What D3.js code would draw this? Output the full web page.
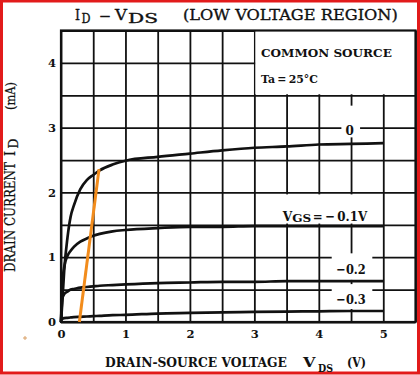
<!DOCTYPE html>
<html>
<head>
<meta charset="utf-8">
<script src="https://cdn.jsdelivr.net/npm/d3@7"></script>
<style>
  html, body { margin: 0; padding: 0; background: #fff; }
  text { font-family: "DejaVu Serif", serif; fill: #111; }
</style>
</head>
<body>
<div id="chart"></div>
<script>
// drain-source voltage sample points (V)
var vds = [0, 0.02, 0.05, 0.1, 0.15, 0.2, 0.3, 0.4, 0.5, 0.6, 0.8, 1.0, 1.5, 2.0, 2.5, 3.0, 3.5, 4.0, 4.5, 5.0];
// drain current (mA) for each gate-source voltage
var idVgs0   = [0, 0.3, 0.8, 1.3, 1.63, 1.8, 2.05, 2.19, 2.27, 2.34, 2.43, 2.49, 2.55, 2.6, 2.65, 2.69, 2.71, 2.74, 2.75, 2.76];
var idVgsM01 = [0, 0.55, 0.85, 1.02, 1.1, 1.16, 1.24, 1.29, 1.33, 1.36, 1.40, 1.42, 1.45, 1.47, 1.47, 1.48, 1.48, 1.48, 1.48, 1.48];
var idVgsM02 = [0, 0.36, 0.43, 0.47, 0.5, 0.51, 0.53, 0.54, 0.55, 0.56, 0.57, 0.58, 0.6, 0.61, 0.62, 0.62, 0.63, 0.63, 0.63, 0.63];
var idVgsM03 = [0.04, 0.05, 0.06, 0.065, 0.07, 0.075, 0.08, 0.085, 0.09, 0.095, 0.105, 0.11, 0.13, 0.14, 0.15, 0.155, 0.16, 0.165, 0.17, 0.17];
// hand drawn orange line
var orangeVds = [0.285, 0.59];
var orangeId = [0, 2.36];
// ticks
var xTicks = [0, 1, 2, 3, 4, 5];
var yTicks = [0, 1, 2, 3, 4];
var gridStep = 0.5;

var W = 420, H = 375;
var margin = {top: 30.5, right: 4.5, bottom: 53, left: 61};
var width = W - margin.left - margin.right,
    height = H - margin.top - margin.bottom;

var svg = d3.select("#chart").append("svg")
    .attr("width", W)
    .attr("height", H);

// red frame round the picture
svg.append("rect")
    .attr("x", 1.5).attr("y", 1).attr("width", 417).attr("height", 372)
    .attr("fill", "none").attr("stroke", "#e21b1b").attr("stroke-width", 3);

var x = d3.scaleLinear().domain([0, 5.5]).range([margin.left, margin.left + width]);
var y = d3.scaleLinear().domain([0, 4.5]).range([margin.top + height, margin.top]);

// grid
var gx = d3.range(0, 5.5 + 1e-9, gridStep), gy = d3.range(0, 4.5 + 1e-9, gridStep);
svg.append("g")
    .attr("transform", "translate(0," + y(0) + ")")
    .call(d3.axisBottom(x).tickValues(gx).tickSize(-height).tickFormat(""))
    .call(function(g) { g.select(".domain").remove(); g.selectAll("line").attr("stroke", "#111").attr("stroke-width", 1.8); });
svg.append("g")
    .attr("transform", "translate(" + x(0) + ",0)")
    .call(d3.axisLeft(y).tickValues(gy).tickSize(-width).tickFormat(""))
    .call(function(g) { g.select(".domain").remove(); g.selectAll("line").attr("stroke", "#111").attr("stroke-width", 1.8); });

// legend box blanks the grid
svg.append("rect")
    .attr("x", x(3) + 1).attr("y", y(4.5))
    .attr("width", x(5.5) - x(3) - 1).attr("height", y(3.5) - y(4.5) - 1)
    .attr("fill", "#fff");

// white patches behind the curve labels
var patches = [[4.35, 4.64, 2.85, 3.34], [3.34, 4.95, 1.52, 1.97], [4.2, 4.83, 0.65, 1.06], [4.2, 4.83, 0.2, 0.585]];
svg.selectAll("rect.patch").data(patches).enter().append("rect")
    .attr("class", "patch")
    .attr("x", function(d) { return x(d[0]); })
    .attr("y", function(d) { return y(d[3]); })
    .attr("width", function(d) { return x(d[1]) - x(d[0]); })
    .attr("height", function(d) { return y(d[2]) - y(d[3]); })
    .attr("fill", "#fff");

// plot frame
svg.append("rect")
    .attr("x", x(0)).attr("y", y(4.5)).attr("width", width).attr("height", height)
    .attr("fill", "none").attr("stroke", "#111").attr("stroke-width", 2.2);

// curves
var series = [idVgs0, idVgsM01, idVgsM02, idVgsM03];
var line = d3.line()
    .x(function(d) { return x(d[0]); })
    .y(function(d) { return y(d[1]); })
    .curve(d3.curveMonotoneX);
svg.selectAll("path.curve").data(series).enter().append("path")
    .attr("class", "curve")
    .attr("d", function(s) { return line(vds.map(function(v, i) { return [v, s[i]]; })); })
    .attr("fill", "none").attr("stroke", "#111").attr("stroke-width", 2.7)
    .attr("stroke-linejoin", "round");

svg.append("path")
    .attr("d", d3.line().x(function(d) { return x(d[0]); }).y(function(d) { return y(d[1]); })(orangeVds.map(function(v, i) { return [v, orangeId[i]]; })))
    .attr("stroke", "#f28c1c").attr("stroke-width", 3).attr("fill", "none");

// tick labels
svg.append("g")
    .attr("transform", "translate(0," + y(0) + ")")
    .call(d3.axisBottom(x).tickValues(xTicks).tickSize(0).tickPadding(8).tickFormat(d3.format("d")))
    .call(function(g) { g.select(".domain").remove(); })
    .selectAll("text").attr("font-family", "DejaVu Serif").attr("font-weight", "bold").attr("font-size", 11.5).attr("fill", "#111");
svg.append("g")
    .attr("transform", "translate(" + x(0) + ",0)")
    .call(d3.axisLeft(y).tickValues(yTicks).tickSize(0).tickPadding(5).tickFormat(d3.format("d")))
    .call(function(g) { g.select(".domain").remove(); })
    .selectAll("text").attr("font-family", "DejaVu Serif").attr("font-weight", "bold").attr("font-size", 11.5).attr("fill", "#111");

// text placed at (px,py), squeezed sideways to a wanted width
function txt(s, px, py, size, opts, parent) {
  opts = opts || {};
  var t = (parent || svg).append("text").attr("x", 0).attr("y", 0).attr("font-size", size).text(s);
  if (opts.bold) t.attr("font-weight", "bold");
  if (opts.anchor) t.attr("text-anchor", opts.anchor);
  if (opts.heavy) t.attr("stroke", "#111").attr("stroke-width", opts.heavy);
  var k = 1;
  if (opts.len) k = opts.len / t.node().getComputedTextLength();
  t.attr("transform", "translate(" + px + "," + py + ") scale(" + k + ",1)");
  return t;
}

// title
txt("I", 75, 19.5, 15.5, {len: 5, heavy: 0.35});
txt("D", 81.5, 22.5, 13.5, {len: 9, heavy: 0.35});
txt("\u2013", 99.5, 19.5, 15.5, {len: 11, heavy: 0.35});
txt("V", 115, 19.5, 15.5, {len: 12, heavy: 0.35});
txt("DS", 128, 22.7, 13.5, {len: 30, heavy: 0.35});
txt("(LOW VOLTAGE REGION)", 183, 19.5, 15.5, {len: 215, heavy: 0.35});

// legend
txt("COMMON SOURCE", 261, 57.3, 11.5, {bold: true, len: 131});
txt("Ta\u2009=\u200925\u00b0C", 261, 83.3, 11.5, {bold: true, len: 57});

// curve labels
txt("0", x(4.48), y(2.89), 12, {bold: true, anchor: "middle"});
txt("V", x(3.44), y(1.566), 13.5, {bold: true, len: 9.5});
txt("GS", x(3.44) + 9.5, y(1.566) + 1.5, 11, {bold: true, len: 19});
txt("=\u2009\u2212\u20090.1V", x(3.44) + 30, y(1.566), 13.5, {bold: true, len: 54.5});
txt("\u22120.2", x(4.5), y(0.744), 13, {bold: true, anchor: "middle", len: 29.5});
txt("\u22120.3", x(4.5), y(0.285), 13, {bold: true, anchor: "middle", len: 29.5});

// x axis title
txt("DRAIN-SOURCE VOLTAGE", 105, 366.5, 13.5, {bold: true, len: 182});
txt("V", 303, 366.5, 13.5, {bold: true, len: 12.5});
txt("DS", 318, 371.5, 11.5, {bold: true, len: 15});
txt("(V)", 347, 366.5, 13.5, {bold: true, len: 19});

// y axis title
var yt = svg.append("g").attr("transform", "translate(15,0) rotate(-90)");
txt("DRAIN CURRENT", -272, 0, 14, {len: 110, heavy: 0.25}, yt);
txt("I", -156, 0, 14, {len: 5, heavy: 0.25}, yt);
txt("D", -148.5, 2.5, 12, {len: 10, heavy: 0.25}, yt);
txt("(mA)", -110, 0, 13, {len: 28, heavy: 0.25}, yt);

// small stray mark on the scan
svg.append("path").attr("d", "M23,338H27M25,336V340").attr("stroke", "#d9a066").attr("stroke-width", 1);
</script>
</body>
</html>
